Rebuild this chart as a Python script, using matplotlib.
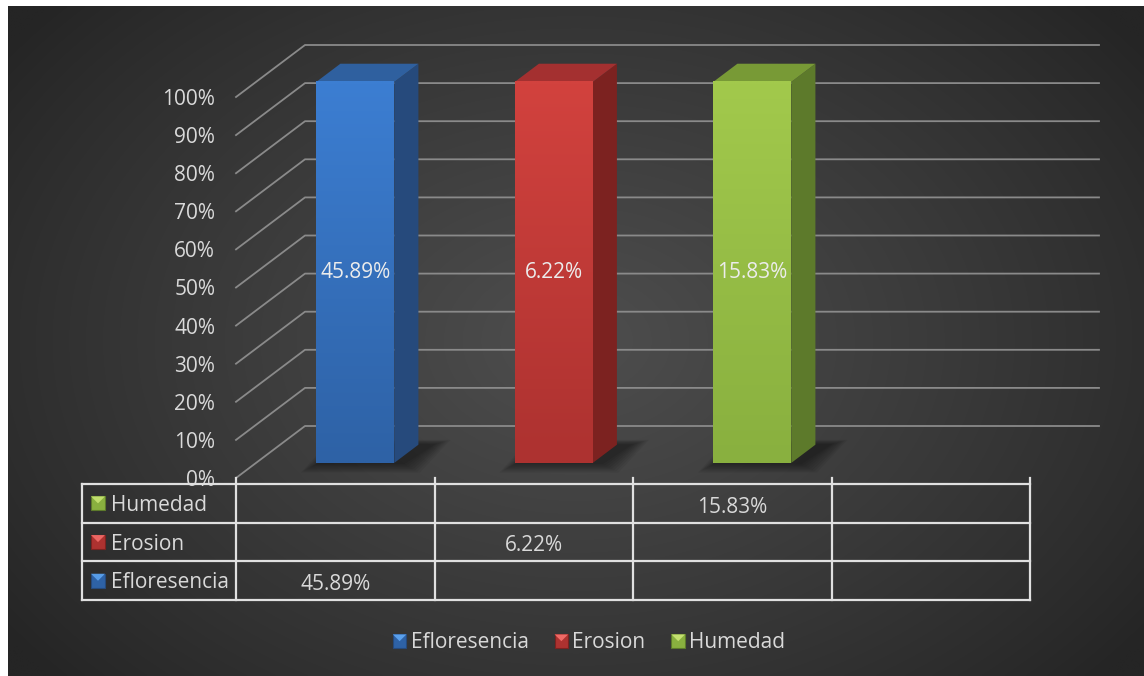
import numpy as np
import matplotlib
matplotlib.use("Agg")
import matplotlib.pyplot as plt
from matplotlib.patches import Polygon, Rectangle
from matplotlib.legend_handler import HandlerBase

# ---------------- data ----------------
categories = ["", "", "", ""]
series_names = ["Efloresencia", "Erosion", "Humedad"]
efloresencia = [45.89, None, None, None]
erosion = [None, 6.22, None, None]
humedad = [None, None, 15.83, None]
series_values = [efloresencia, erosion, humedad]
y_ticks = [0, 10, 20, 30, 40, 50, 60, 70, 80, 90, 100]
y_tick_labels = [f"{t}%" for t in y_ticks]

# ---------------- style ----------------
FONT = "Open Sans"
FS = 15
TXT = "#d9d9d9"
front_top = ["#3c7ed2", "#d2423e", "#a2c94c"]
front_bot = ["#2e62a6", "#ad3230", "#89b03f"]
side_col = ["#264a7c", "#7c2220", "#5d7a2b"]
top_col = ["#2f609f", "#a43030", "#789a36"]
icon_light = ["#5aa0ec", "#ef6a66", "#c4e070"]

W, H = 1144, 676
fig = plt.figure(figsize=(W / 100, H / 100), dpi=100)
fig.patch.set_facecolor("white")

# background gradient
bg = fig.add_axes([8 / W, 0, 1 - 8 / W, 1 - 6 / H])
bg.set_axis_off()
yy, xx = np.mgrid[0:1:300j, 0:1:500j]
r = np.sqrt(((xx - 0.5) / 0.62) ** 2 + ((yy - 0.5) / 0.75) ** 2)
g = np.clip(1 - r, 0, 1)
base = np.array([0x25, 0x25, 0x25]) / 255
light = np.array([0x4e, 0x4e, 0x4e]) / 255
img = base[None, None, :] + (light - base)[None, None, :] * (g[..., None] ** 0.9)
bg.imshow(img, aspect="auto", extent=[0, 1, 0, 1], interpolation="bilinear")
bg.set_xlim(0, 1)
bg.set_ylim(0, 1)

# main axes: front plane
x0px, x1px, y0px, y1px = 236, 1030, 478, 97
ax = fig.add_axes([x0px / W, 1 - y0px / H, (x1px - x0px) / W, (y0px - y1px) / H])
ax.set_xlim(-0.5, len(categories) - 0.5)
ax.set_ylim(0, 1)
ax.patch.set_alpha(0)
for s in ax.spines.values():
    s.set_visible(False)
ax.set_xticks([])
ax.set_yticks([t / 100 for t in y_ticks])
ax.set_yticklabels(y_tick_labels, fontsize=FS, color=TXT, family=FONT)
ax.tick_params(axis="y", length=0, pad=15)

px_x = (x1px - x0px) / len(categories)  # px per category
px_y = (y0px - y1px)  # px per unit
DX = 69 / px_x
DY = 52 / px_y
d0, d1 = 0.29, 0.64
bw = 78 / px_x
nc = len(categories)

# gridlines
grid_c = "#8a8a8a"
for t in y_ticks:
    v = t / 100
    ax.plot([-0.5, -0.5 + DX, nc - 0.5 + DX], [v, v + DY, v + DY],
            color=grid_c, lw=1.3, clip_on=False, zorder=1)

# bars (100% stacked -> share of category total)
totals = [sum(s[i] for s in series_values if s[i] is not None) for i in range(nc)]
for si, vals in enumerate(series_values):
    for i, v in enumerate(vals):
        if v is None:
            continue
        h = v / totals[i]
        xl = i - bw / 2
        xr = i + bw / 2
        fx, fy = d0 * DX, d0 * DY
        bx, by = d1 * DX, d1 * DY
        # soft shadow on the floor
        for k in range(8):
            gx = (k + 1) * 2.2 / px_x
            gy = (k + 1) * 1.2 / px_y
            off = 8 / px_x
            ax.add_patch(Polygon(
                [(xl + fx - gx + off * 0.3, fy - gy), (xr + fx + gx + off, fy - gy),
                 (xr + bx + gx + off * 1.8, by + gy * 0.5), (xl + bx - gx + off, by + gy * 0.5)],
                closed=True, fc="black", alpha=0.06, ec="none", zorder=2, clip_on=False))
        # side
        ax.add_patch(Polygon([(xr + fx, fy), (xr + bx, by), (xr + bx, h + by), (xr + fx, h + fy)],
                             closed=True, fc=side_col[si], ec="none", zorder=3, clip_on=False))
        # top
        ax.add_patch(Polygon([(xl + fx, h + fy), (xl + bx, h + by), (xr + bx, h + by), (xr + fx, h + fy)],
                             closed=True, fc=top_col[si], ec="none", zorder=3, clip_on=False))
        # front with gradient
        front = Rectangle((xl + fx, fy), bw, h, fc="none", ec="none", zorder=4, clip_on=False)
        ax.add_patch(front)
        c1 = np.array(matplotlib.colors.to_rgb(front_top[si]))
        c2 = np.array(matplotlib.colors.to_rgb(front_bot[si]))
        tgrad = np.linspace(0, 1, 64)[:, None]
        grad = c1[None, None, :] * (1 - tgrad[..., None]) + c2[None, None, :] * tgrad[..., None]
        im = ax.imshow(np.repeat(grad, 2, axis=1), extent=[xl + fx, xr + fx, fy, h + fy],
                       aspect="auto", zorder=4, interpolation="bilinear", clip_on=False)
        im.set_clip_path(front)
        ax.text(i + fx, h / 2 + fy, f"{v:.2f}%", ha="center", va="center",
                fontsize=FS, color="#ececec", family=FONT, zorder=5)

ax.set_xlim(-0.5, nc - 0.5)
ax.set_ylim(0, 1)

# ---------------- data table ----------------
tc = "#e0e0e0"
top = -6 / px_y
rh = 38.7 / px_y
nrows = len(series_names)
hdr_left = -0.5 + (82 - 236) / px_x
bottom = top - nrows * rh
for k in range(nrows + 1):
    y = top - k * rh
    ax.plot([hdr_left, nc - 0.5], [y, y], color=tc, lw=1.6, clip_on=False, zorder=6)
for b in np.arange(-0.5, nc, 1.0):
    ax.plot([b, b], [0, bottom], color=tc, lw=1.6, clip_on=False, zorder=6)
ax.plot([hdr_left, hdr_left], [top, bottom], color=tc, lw=1.6, clip_on=False, zorder=6)

icon_w = 14 / px_x
icon_h = 14 / px_y


def draw_icon(axx, x, yc, si):
    p = Rectangle((x, yc - icon_h / 2), icon_w, icon_h, fc=front_bot[si], ec=side_col[si],
                  lw=0.8, zorder=7, clip_on=False)
    axx.add_patch(p)
    tri = Polygon([(x, yc + icon_h / 2), (x + icon_w, yc + icon_h / 2), (x + icon_w / 2, yc)],
                  closed=True, fc=icon_light[si], ec="none", zorder=8, clip_on=False, alpha=0.95)
    axx.add_patch(tri)


for r_i in range(nrows):
    si = nrows - 1 - r_i
    yc = top - (r_i + 0.5) * rh
    draw_icon(ax, hdr_left + 9 / px_x, yc, si)
    ax.text(hdr_left + 29 / px_x, yc - 2 / px_y, series_names[si], ha="left", va="center",
            fontsize=FS, color=TXT, family=FONT, zorder=7)
    for i, v in enumerate(series_values[si]):
        if v is None:
            continue
        ax.text(i, yc - 0.01, f"{v:.2f}%", ha="center", va="center",
                fontsize=FS, color=TXT, family=FONT, zorder=7)


# ---------------- legend ----------------
class IconHandler(HandlerBase):
    def __init__(self, si):
        super().__init__()
        self.si = si

    def create_artists(self, legend, orig_handle, xdescent, ydescent, width, height, fontsize, trans):
        si = self.si
        s = min(width, height) * 1.0
        x = (width - s) / 2 - xdescent
        y = (height - s) / 2 - ydescent
        sq = Rectangle((x, y), s, s, fc=front_bot[si], ec=side_col[si], lw=0.8, transform=trans)
        tri = Polygon([(x, y + s), (x + s, y + s), (x + s / 2, y + s / 2)], closed=True,
                      fc=icon_light[si], ec="none", transform=trans)
        return [sq, tri]


handles = [Rectangle((0, 0), 1, 1) for _ in series_names]
hmap = {h: IconHandler(i) for i, h in enumerate(handles)}
leg = fig.legend(handles, series_names, loc="center", bbox_to_anchor=(589 / W, 1 - 643 / H),
                 ncol=3, frameon=False, handler_map=hmap, handlelength=0.65, handleheight=0.65,
                 handletextpad=0.2, columnspacing=1.25,
                 prop={"family": FONT, "size": FS})
for t in leg.get_texts():
    t.set_color(TXT)

fig.savefig("out.png", dpi=100, facecolor=fig.get_facecolor())
